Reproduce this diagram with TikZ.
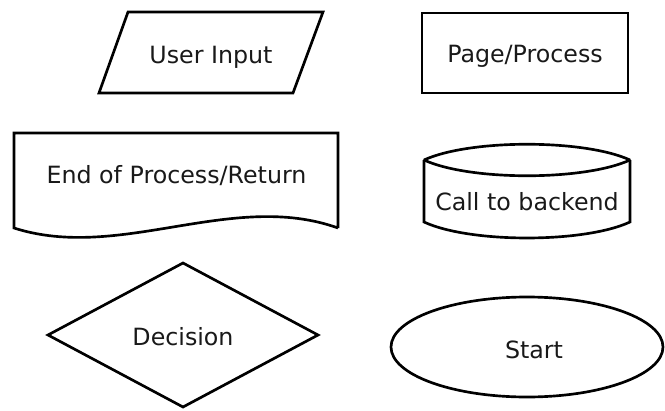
\documentclass[tikz,border=0pt]{standalone}
\usepackage{fontspec}
\setmainfont{DejaVu Sans}
\begin{document}
\begin{tikzpicture}[x=0.75pt,y=-0.75pt,
  outline/.style={draw=black,line width=2pt,line join=miter},
  label/.style={anchor=base,inner sep=0pt,text=black!90,font=\fontsize{17.8}{20}\selectfont}]
\useasboundingbox (0,0) rectangle (665,411);

% input/output parallelogram
\draw[outline] (128,12) -- (323,12) -- (293,93) -- (99,93) -- cycle;
\node[label] (input) at (211,63) {User Input};

% process rectangle
\draw[outline] (422,13) rectangle (628,93);
\node[label] (page) at (525,62) {Page/Process};

% document shape with wavy bottom
\draw[outline] (338,228) -- (338,133) -- (14,133) -- (14,228)
  .. controls (120,262) and (232,190) .. (338,228);
\node[label] (endproc) at (176.5,183) {End of Process/Return};

% stored data / cylinder
\draw[outline,line join=bevel] (424,160) .. controls (470,139) and (584,139) .. (630,160)
  .. controls (584,181) and (470,181) .. (424,160) -- cycle;
\draw[outline] (424,160) -- (424,222)
  .. controls (470,243.3) and (584,243.3) .. (630,222) -- (630,160);
\node[label] (backend) at (527,210) {Call to backend};

% decision diamond
\draw[outline] (183,263) -- (318,335) -- (183,407) -- (48,335) -- cycle;
\node[label] (decision) at (183,345) {Decision};

% terminator ellipse
\draw[outline] (527,347) ellipse [x radius=136, y radius=50];
\node[label] (start) at (534,358) {Start};
\end{tikzpicture}
\end{document}
